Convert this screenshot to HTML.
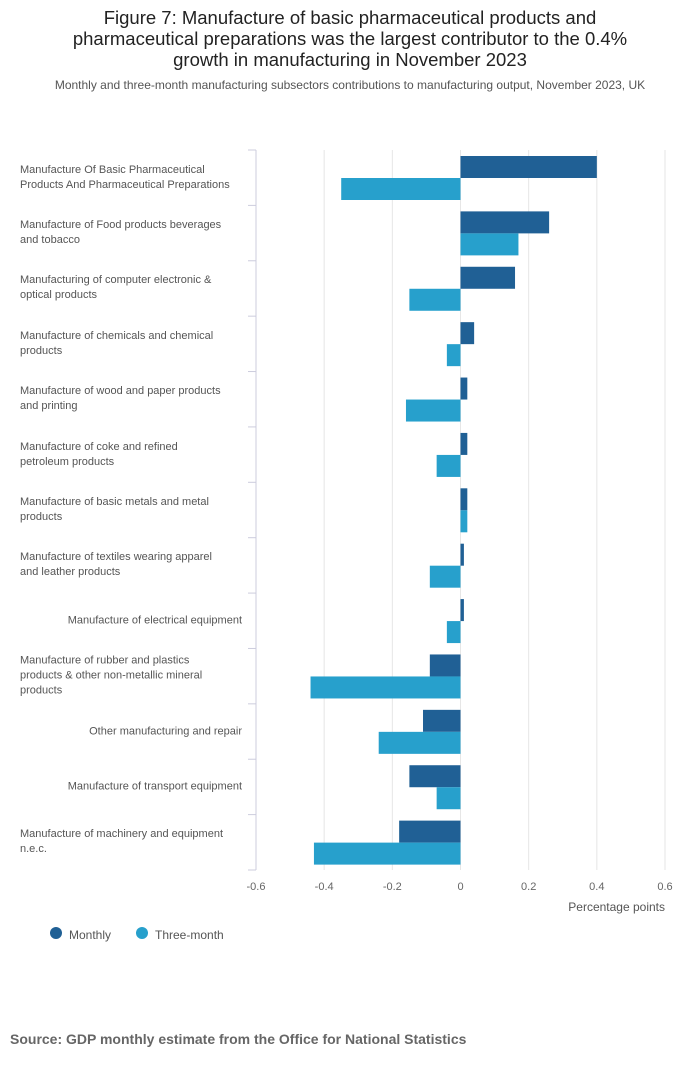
<!DOCTYPE html>
<html><head><meta charset="utf-8"><style>
body{margin:0;width:700px;height:1067px;background:#fff;font-family:"Liberation Sans",sans-serif;position:relative;overflow:hidden}
.t{position:absolute;left:0;width:700px;text-align:center;top:7px;font-size:18.5px;line-height:21px;color:#222}
.st{position:absolute;left:0;width:700px;text-align:center;top:78px;font-size:12px;color:#555}
.lab{position:absolute;left:20px;width:222px;font-size:11px;white-space:pre-line;line-height:15px;color:#555;transform:translateY(-50%)}
.lab.r{text-align:right;}
.src{position:absolute;left:10px;top:1031px;font-size:14px;font-weight:bold;color:#666}
</style></head><body>
<div class="t">Figure 7: Manufacture of basic pharmaceutical products and<br>pharmaceutical preparations was the largest contributor to the 0.4%<br>growth in manufacturing in November 2023</div>
<div class="st">Monthly and three-month manufacturing subsectors contributions to manufacturing output, November 2023, UK</div>
<div id="labs"></div>
<svg id="c" width="700" height="1067" style="position:absolute;left:0;top:0"></svg>
<div class="src">Source: GDP monthly estimate from the Office for National Statistics</div>
<script>
const categories=["Manufacture Of Basic Pharmaceutical\nProducts And Pharmaceutical Preparations","Manufacture of Food products beverages\nand tobacco","Manufacturing of computer electronic &\noptical products","Manufacture of chemicals and chemical\nproducts","Manufacture of wood and paper products\nand printing","Manufacture of coke and refined\npetroleum products","Manufacture of basic metals and metal\nproducts","Manufacture of textiles wearing apparel\nand leather products","Manufacture of electrical equipment","Manufacture of rubber and plastics\nproducts & other non-metallic mineral\nproducts","Other manufacturing and repair","Manufacture of transport equipment","Manufacture of machinery and equipment\nn.e.c."];
const monthly=[0.40,0.26,0.16,0.04,0.02,0.02,0.02,0.01,0.01,-0.09,-0.11,-0.15,-0.18];
const threeMonth=[-0.35,0.17,-0.15,-0.04,-0.16,-0.07,0.02,-0.09,-0.04,-0.44,-0.24,-0.07,-0.43];
const ticks=[-0.6,-0.4,-0.2,0,0.2,0.4,0.6];
const tickLabels=["-0.6","-0.4","-0.2","0","0.2","0.4","0.6"];
const svg=document.getElementById('c'),NS="http://www.w3.org/2000/svg";
const x0=256,x1=665,yTop=150,yBot=870,rh=(yBot-yTop)/categories.length;
const xs=v=>x0+(v+0.6)/1.2*(x1-x0);
function el(t,a){const e=document.createElementNS(NS,t);for(const k in a)e.setAttribute(k,a[k]);svg.appendChild(e);return e;}
ticks.forEach((t,i)=>{
 const g=el('line',{x1:xs(t),x2:xs(t),y1:yTop,y2:yBot,stroke:i==0?'#ccd':'#e6e6e6','stroke-width':1});
 
 
 const l=el('text',{x:xs(t),y:890,'font-size':11,fill:'#666','text-anchor':'middle','font-family':'Liberation Sans'});
 l.textContent=tickLabels[i];
 
 
});
for(let i=0;i<=categories.length;i++){const tk=el('line',{x1:248,x2:256,y1:yTop+i*rh,y2:yTop+i*rh,stroke:'#ccd'});
 
 }
const xt=el('text',{x:665,y:911,'font-size':12,fill:'#555','text-anchor':'end','font-family':'Liberation Sans'});xt.textContent='Percentage points';


const labs=document.getElementById('labs');
categories.forEach((c,i)=>{
 const y=yTop+i*rh;
 const m=monthly[i],t=threeMonth[i];
 const b1=el('rect',{x:Math.min(xs(0),xs(m)),y:y+6,width:Math.abs(xs(m)-xs(0)),height:22,fill:'#206095'});
 
 
 const b2=el('rect',{x:Math.min(xs(0),xs(t)),y:y+28,width:Math.abs(xs(t)-xs(0)),height:22,fill:'#27a0cc'});
 
 
 const d=document.createElement('div');d.className='lab';d.style.top=(y+rh/2)+'px';d.textContent=c;
 
 
 labs.appendChild(d);
 if(c.indexOf('\n')<0)d.classList.add('r');
});
[['Monthly','#206095',56,69],['Three-month','#27a0cc',142,155]].forEach(([n,col,cx,tx])=>{
 const c=el('circle',{cx:cx,cy:933,r:6,fill:col});
 
 
 const t=el('text',{x:tx,y:939,'font-size':12,fill:'#555','font-family':'Liberation Sans'});t.textContent=n;
 
 
});
</script>
</body></html>
